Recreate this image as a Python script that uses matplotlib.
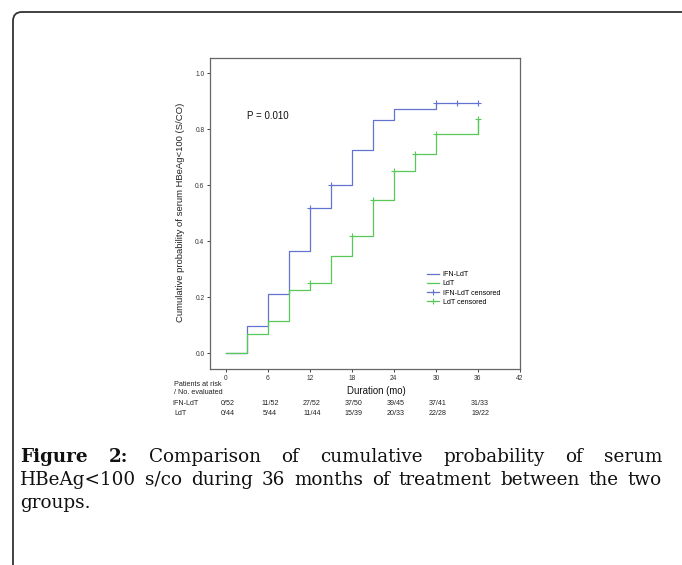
import matplotlib
matplotlib.use("Agg")
import matplotlib.pyplot as plt
from matplotlib.lines import Line2D
from matplotlib.patches import FancyBboxPatch
from matplotlib.transforms import IdentityTransform, blended_transform_factory

# KM step data
ifn_t = [0, 3, 6, 9, 12, 15, 18, 21, 24, 30, 36]
ifn_p = [0.0, 0.096, 0.212, 0.365, 0.519, 0.600, 0.726, 0.832, 0.873, 0.894, 0.894]
ifn_cens_t = [12, 15, 30, 33, 36]
ifn_cens_p = [0.519, 0.600, 0.894, 0.894, 0.894]

ldt_t = [0, 3, 6, 9, 12, 15, 18, 21, 24, 27, 30, 36]
ldt_p = [0.0, 0.068, 0.114, 0.227, 0.250, 0.347, 0.420, 0.547, 0.653, 0.711, 0.783, 0.838]
ldt_cens_t = [12, 18, 21, 24, 27, 30, 36]
ldt_cens_p = [0.250, 0.420, 0.547, 0.653, 0.711, 0.783, 0.838]

xticks = [0, 6, 12, 18, 24, 30, 36, 42]
yticks = [0.0, 0.2, 0.4, 0.6, 0.8, 1.0]
risk_t = [0, 6, 12, 18, 24, 30, 36]
risk_ifn = ["0/52", "11/52", "27/52", "37/50", "39/45", "37/41", "31/33"]
risk_ldt = ["0/44", "5/44", "11/44", "15/39", "20/33", "22/28", "19/22"]

blue = "#6274cf"
green = "#58c958"
sans = "Liberation Sans"
W, H = 682, 565

fig = plt.figure(figsize=(W / 100, H / 100), dpi=100)

# page border with rounded corner
border = FancyBboxPatch((13, -30), 720, H - 12 + 30, boxstyle="round,pad=0,rounding_size=9",
                        transform=IdentityTransform(), fill=False, lw=1.3, ec="#333333")
fig.add_artist(border)

ax = fig.add_axes([210 / W, 1 - 369 / H, 310 / W, 311 / H])
ax.set_xlim(-2.25, 42)
ax.set_ylim(-0.056, 1.055)

ax.step(ifn_t, ifn_p, where="post", color=blue, lw=0.9)
ax.plot(ifn_cens_t, ifn_cens_p, "+", color=blue, ms=4, mew=0.8)
ax.step(ldt_t, ldt_p, where="post", color=green, lw=0.9)
ax.plot([36, 36], [0.783, 0.838], color=green, lw=0.9)
ax.plot(ldt_cens_t, ldt_cens_p, "+", color=green, ms=4, mew=0.8)

for s in ax.spines.values():
    s.set_color("#666666")
    s.set_linewidth(0.9)
ax.set_xticks(xticks)
ax.set_yticks(yticks)
ax.set_yticklabels(["%.1f" % v for v in yticks])
ax.tick_params(length=2.5, width=0.7, color="#444444", pad=1.5, labelsize=4.8, labelcolor="#333333")
for lab in ax.get_xticklabels() + ax.get_yticklabels():
    lab.set_family(sans)

ax.set_ylabel("Cumulative probability of serum HBeAg<100 (S/CO)", fontsize=6.8, family=sans, color="#222222")
ax.yaxis.set_label_coords(-0.082, 0.505)

ax.text(3.0, 0.847, "P = 0.010", fontsize=7, family=sans, va="center", ha="left", color="#111111")

handles = [
    Line2D([], [], color=blue, lw=0.9),
    Line2D([], [], color=green, lw=0.9),
    Line2D([], [], color=blue, lw=0.9, marker="+", ms=5, mew=0.8),
    Line2D([], [], color=green, lw=0.9, marker="+", ms=5, mew=0.8),
]
ax.legend(handles, ["IFN-LdT", "LdT", "IFN-LdT censored", "LdT censored"],
          loc="upper left", bbox_to_anchor=(427 / W, 1 - 271 / H), bbox_transform=fig.transFigure,
          frameon=False, prop={"family": sans, "size": 5.1}, handlelength=1.7, handletextpad=0.5,
          labelspacing=0.32, borderpad=0, borderaxespad=0)

# x label and patients-at-risk table
fig.text(376 / W, 1 - 391 / H, "Duration (mo)", fontsize=6.9, family=sans, ha="center", va="center", color="#111111")
fig.text(174 / W, 1 - 384.3 / H, "Patients at risk", fontsize=5.2, family=sans, va="center", color="#222222")
fig.text(174 / W, 1 - 392.7 / H, "/ No. evaluated", fontsize=5.2, family=sans, va="center", color="#222222")
fig.text(172.7 / W, 1 - 403.3 / H, "IFN-LdT", fontsize=5.1, family=sans, va="center", color="#222222")
fig.text(174 / W, 1 - 413.7 / H, "LdT", fontsize=5.1, family=sans, va="center", color="#222222")
tr = blended_transform_factory(ax.transData, fig.transFigure)
for t, a, b in zip(risk_t, risk_ifn, risk_ldt):
    ax.text(t + 0.3, 1 - 403.3 / H, a, transform=tr, fontsize=5.1, family=sans, ha="center", va="center",
            color="#222222", clip_on=False)
    ax.text(t + 0.3, 1 - 413.7 / H, b, transform=tr, fontsize=5.1, family=sans, ha="center", va="center",
            color="#222222", clip_on=False)

# caption, justified like the page
serif = "DejaVu Serif"
csize = 13.2
lines = [
    [("Figure", "bold"), ("2:", "bold"), ("Comparison", "normal"), ("of", "normal"), ("cumulative", "normal"),
     ("probability", "normal"), ("of", "normal"), ("serum", "normal")],
    [(w, "normal") for w in "HBeAg<100 s/co during 36 months of treatment between the two".split()],
    [("groups.", "normal")],
]
baselines = [462, 485, 507.5]
x0, x1 = 20, 662
renderer = fig.canvas.get_renderer()
for i, (words, yb) in enumerate(zip(lines, baselines)):
    arts = [fig.text(0, 1 - yb / H, w, fontsize=csize, family=serif, weight=wt, va="baseline", color="#111111")
            for w, wt in words]
    widths = [a.get_window_extent(renderer).width for a in arts]
    if i < 2:
        gap = (x1 - x0 - sum(widths)) / (len(arts) - 1)
    else:
        gap = 0
    x = x0
    for a, w in zip(arts, widths):
        a.set_x(x / W)
        x += w + gap

fig.savefig("out.png", dpi=100)
